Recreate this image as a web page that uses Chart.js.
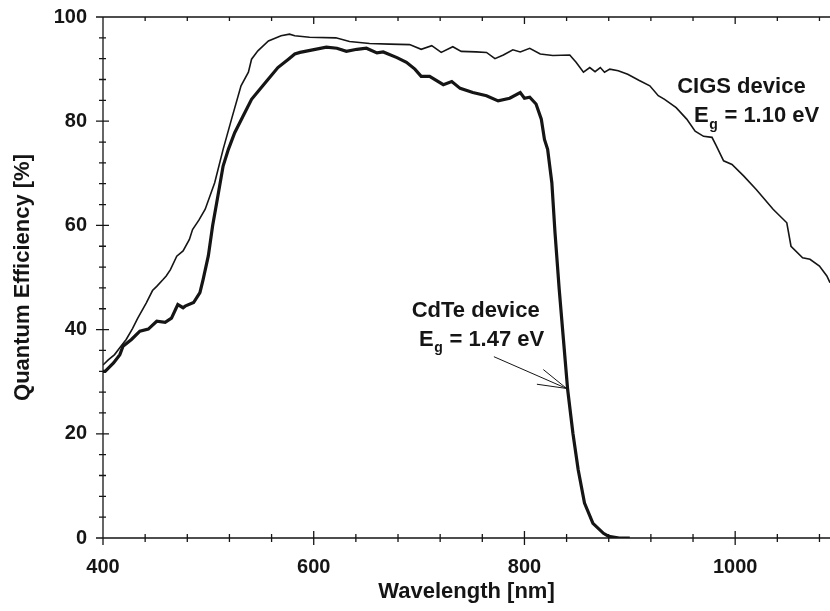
<!DOCTYPE html>
<html>
<head>
<meta charset="utf-8">
<script src="https://cdn.jsdelivr.net/npm/chart.js@4/dist/chart.umd.min.js"></script>
<style>
html, body { margin: 0; padding: 0; background: #fff; }
#wrap { width: 830px; height: 611px; }
</style>
</head>
<body>
<div id="wrap"><canvas id="grafico" width="830" height="611"></canvas></div>
<script>
//Dados: comprimento de onda (nm) e eficiencia quantica (%)
const cigsWl = [400, 405, 411, 417, 422, 428, 433, 441, 447, 451, 457, 460, 464, 470, 476, 482, 485, 491, 497, 506,
    514, 522, 531, 538, 541, 547, 557, 569, 577, 582, 596, 621, 634, 653, 672, 691, 702, 712, 721, 732,
    740, 754, 764, 772, 780, 789, 796, 805, 815, 827, 843, 849, 856, 862, 867, 872, 876, 881, 889, 898,
    909, 919, 927, 933, 944, 954, 962, 970, 978, 982, 989, 997, 1008, 1020, 1036, 1049, 1053, 1064, 1071, 1080,
    1087, 1090];
const cigsQe = [33.2, 34.2, 35.2, 36.8, 38.1, 40.2, 42.2, 45.1, 47.5, 48.3, 49.6, 50.3, 51.5, 54.1, 55.1, 57.3, 59.2, 61.0, 63.1, 68.2,
    74.6, 80.4, 86.8, 89.4, 91.9, 93.5, 95.4, 96.4, 96.7, 96.4, 96.1, 96.0, 95.3, 94.9, 94.8, 94.7, 93.8, 94.5, 93.2, 94.3,
    93.4, 93.3, 93.2, 92.0, 92.7, 93.7, 93.3, 94.0, 92.9, 92.6, 92.7, 91.3, 89.4, 90.3, 89.5, 90.3, 89.4, 90.0, 89.7, 89.0,
    87.8, 86.8, 84.9, 84.2, 82.6, 80.4, 78.1, 77.1, 76.9, 75.3, 72.4, 71.7, 69.5, 66.9, 63.1, 60.5, 56.0, 53.8, 53.5, 52.2,
    50.3, 49.0];

const cdteWl = [400, 402, 410, 416, 419, 427, 435, 443, 451, 459, 465, 471, 476, 478, 486, 492, 495, 500, 504, 509,
    514, 519, 525, 533, 541, 554, 566, 576, 582, 587, 599, 612, 622, 631, 641, 650, 660, 666, 679, 688,
    696, 702, 710, 723, 731, 739, 751, 764, 775, 786, 796, 800, 805, 811, 816, 819, 822, 826, 829, 833,
    837, 841, 846, 851, 857, 865, 875, 880, 890, 900];
const cdteQe = [32.0, 32.0, 33.6, 35.2, 36.8, 38.1, 39.7, 40.1, 41.6, 41.4, 42.2, 44.8, 44.2, 44.5, 45.2, 47.1, 49.6, 54.2, 59.9, 65.6,
    71.4, 74.6, 77.8, 81.0, 84.2, 87.4, 90.3, 91.9, 92.9, 93.2, 93.7, 94.2, 94.0, 93.4, 93.8, 94.0, 93.1, 93.3, 92.2, 91.3,
    90.0, 88.6, 88.6, 87.0, 87.6, 86.3, 85.5, 84.9, 83.9, 84.4, 85.5, 84.4, 84.6, 83.3, 80.4, 76.5, 74.6, 68.2, 58.6, 47.7,
    38.1, 28.5, 20.1, 13.1, 6.7, 2.8, 0.9, 0.3, 0, 0];

//Marcas dos eixos
const xTicks = [400, 600, 800, 1000];
const yTicks = [0, 20, 40, 60, 80, 100];

//Anotacoes (posicao em coordenadas dos dados)
const notaCigs = { titulo: 'CIGS device', eg: '1.10 eV', x: 945, y: 86.5, xEg: 961, yEg: 81 };
const notaCdte = { titulo: 'CdTe device', eg: '1.47 eV', x: 693, y: 43.5, xEg: 700, yEg: 38.1 };
const seta = { x0: 771, y0: 34.8, x1: 840, y1: 28.7 };

const fonte = '"Liberation Sans", Arial, Helvetica, sans-serif';
const tinta = '#151515';

function pontos(xs, ys) {
    return xs.map((v, i) => ({ x: v, y: ys[i] }));
}

//Escreve "E" com "g" subscrito seguido do valor
function escreverEg(ctx, px, py, valor) {
    ctx.font = 'bold 22px ' + fonte;
    ctx.textBaseline = 'middle';
    ctx.textAlign = 'left';
    ctx.fillText('E', px, py);
    let w = ctx.measureText('E').width;
    ctx.font = 'bold 14px ' + fonte;
    ctx.fillText('g', px + w + 0.5, py + 9);
    let wg = ctx.measureText('g').width;
    ctx.font = 'bold 22px ' + fonte;
    ctx.fillText(' = ' + valor, px + w + wg + 1, py);
}

//Remove o espaco extra que o Chart.js reserva para os rotulos
function semPadding(s) {
    s.paddingTop = 0;
    s.paddingBottom = 0;
    s.paddingLeft = 0;
    s.paddingRight = 0;
}

//Moldura, marcas menores e anotacoes
const moldura = {
    id: 'moldura',
    afterDraw(chart) {
        const { ctx, chartArea: a, scales: { x, y } } = chart;
        ctx.save();
        ctx.strokeStyle = tinta;
        ctx.lineWidth = 1.3;
        ctx.beginPath();
        ctx.moveTo(a.left, a.top); ctx.lineTo(a.right, a.top);
        ctx.moveTo(a.left, a.top); ctx.lineTo(a.left, a.bottom);
        ctx.moveTo(a.left, a.bottom); ctx.lineTo(a.right, a.bottom);
        for (let v = 400; v <= 1090; v += 40) {
            const px = x.getPixelForValue(v);
            const grande = xTicks.includes(v);
            const t = grande ? 7 : 4;
            ctx.moveTo(px, a.bottom - t); ctx.lineTo(px, a.bottom + t);
            ctx.moveTo(px, a.top); ctx.lineTo(px, a.top + t);
        }
        for (let v = 0; v <= 100; v += 4) {
            const py = y.getPixelForValue(v);
            const grande = yTicks.includes(v);
            const t = grande ? 7 : 4;
            ctx.moveTo(a.left - t, py); ctx.lineTo(a.left + t - 1, py);
        }
        ctx.stroke();

        //Textos
        ctx.fillStyle = tinta;
        ctx.textBaseline = 'middle';
        ctx.textAlign = 'left';
        [notaCigs, notaCdte].forEach(n => {
            ctx.font = 'bold 22px ' + fonte;
            ctx.fillText(n.titulo, x.getPixelForValue(n.x), y.getPixelForValue(n.y));
            escreverEg(ctx, x.getPixelForValue(n.xEg), y.getPixelForValue(n.yEg), n.eg);
        });

        //Seta
        const sx = x.getPixelForValue(seta.x0), sy = y.getPixelForValue(seta.y0);
        const ex = x.getPixelForValue(seta.x1), ey = y.getPixelForValue(seta.y1);
        const ang = Math.atan2(ey - sy, ex - sx);
        ctx.lineWidth = 1;
        ctx.beginPath();
        ctx.moveTo(sx, sy); ctx.lineTo(ex, ey);
        [-0.27, 0.27].forEach(d => {
            ctx.moveTo(ex, ey);
            ctx.lineTo(ex - 30 * Math.cos(ang + d), ey - 30 * Math.sin(ang + d));
        });
        ctx.stroke();
        ctx.restore();
    }
};

const ctx = document.getElementById('grafico');
new Chart(ctx, {
    type: 'scatter',
    data: {
        datasets: [
            {
                label: 'CIGS device',
                data: pontos(cigsWl, cigsQe),
                showLine: true,
                borderColor: tinta,
                borderWidth: 1.6,
                pointRadius: 0,
                tension: 0
            },
            {
                label: 'CdTe device',
                data: pontos(cdteWl, cdteQe),
                showLine: true,
                borderColor: tinta,
                borderWidth: 3.2,
                pointRadius: 0,
                tension: 0
            }
        ]
    },
    options: {
        responsive: false,
        animation: false,
        devicePixelRatio: 1,
        layout: { padding: { top: 17, left: 0, right: 0, bottom: 0 } },
        plugins: { legend: { display: false }, tooltip: { enabled: false } },
        scales: {
            x: {
                type: 'linear',
                min: 400,
                max: 1090,
                border: { display: false },
                grid: { display: false, drawTicks: false },
                afterBuildTicks: s => { s.ticks = xTicks.map(v => ({ value: v })); },
                afterFit: s => { s.height = 73; semPadding(s); },
                ticks: {
                    color: tinta,
                    padding: 17,
                    maxRotation: 0,
                    callback: v => String(v),
                    font: { family: fonte, size: 20, weight: 'bold' }
                },
                title: {
                    display: true,
                    text: 'Wavelength [nm]',
                    color: tinta,
                    padding: { top: 0, bottom: 6 },
                    font: { family: fonte, size: 22, weight: 'bold' }
                }
            },
            y: {
                min: 0,
                max: 100,
                border: { display: false },
                grid: { display: false, drawTicks: false },
                afterBuildTicks: s => { s.ticks = yTicks.map(v => ({ value: v })); },
                afterFit: s => { s.width = 103; semPadding(s); },
                ticks: {
                    color: tinta,
                    padding: 16,
                    callback: v => String(v),
                    font: { family: fonte, size: 20, weight: 'bold' }
                },
                title: {
                    display: true,
                    text: 'Quantum Efficiency [%]',
                    color: tinta,
                    padding: { top: 10, bottom: 0 },
                    font: { family: fonte, size: 22, weight: 'bold' }
                }
            }
        }
    },
    plugins: [moldura]
});
</script>
</body>
</html>
